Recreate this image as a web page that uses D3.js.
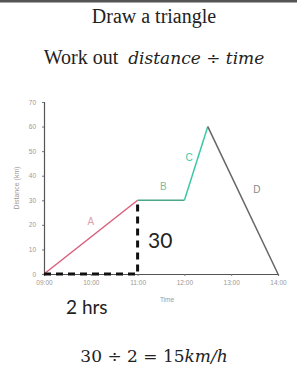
<!DOCTYPE html>
<html><head><meta charset="utf-8">
<script src="https://cdn.jsdelivr.net/npm/d3@7"></script>
<style>body{margin:0;background:#fff}svg{display:block}</style>
</head><body>
<svg id="c" width="297" height="365"></svg>
<script>
const hours = [9, 11, 12, 12.5, 14];
const distances = [0, 30, 30, 60, 0];
const segmentNames = ["A", "B", "C", "D"];
const segmentColors = ["#d9607c", "#4aa886", "#3cc8a4", "#666666"];
const xTickValues = [9, 10, 11, 12, 13, 14];
const xTickLabels = ["09:00", "10:00", "11:00", "12:00", "13:00", "14:00"];
const yTickValues = [0, 10, 20, 30, 40, 50, 60, 70];

const svg = d3.select("#c");
svg.append("rect").attr("x",0).attr("y",0).attr("width",297).attr("height",2.5).attr("fill","#555");

const x = d3.scaleLinear().domain([9, 14]).range([44, 278]);
const y = d3.scaleLinear().domain([0, 70]).range([274, 102]);

svg.append("text").attr("x",154).attr("y",23).attr("text-anchor","middle")
  .attr("font-family","Liberation Serif").attr("font-size",20).attr("fill","#222").text("Draw a triangle");
const t2 = svg.append("text").attr("x",154).attr("y",64).attr("text-anchor","middle")
  .attr("font-family","Liberation Serif").attr("font-size",20).attr("fill","#222")
  .attr("xml:space","preserve").style("white-space","pre");
t2.append("tspan").text("Work out  ");
t2.append("tspan").attr("font-family","DejaVu Serif").attr("font-size",17).attr("font-style","italic").text("distance");
t2.append("tspan").attr("font-family","DejaVu Serif").attr("font-size",17).text(" ÷ ");
t2.append("tspan").attr("font-family","DejaVu Serif").attr("font-size",17).attr("font-style","italic").text("time");

// axes
const yAxis = d3.axisLeft(y).tickValues(yTickValues).tickSize(2).tickFormat(d3.format("d"));
const gy = svg.append("g").attr("transform","translate(44,0)").call(yAxis);
const xAxis = d3.axisBottom(x).tickValues(xTickValues).tickSize(2).tickFormat((d,i)=>xTickLabels[i]);
const gx = svg.append("g").attr("transform","translate(0,274)").call(xAxis);
[gx, gy].forEach(g => {
  g.select(".domain").attr("stroke","#555").attr("stroke-width",1.2);
  g.selectAll(".tick line").attr("stroke","#777");
  g.selectAll(".tick text").attr("font-family","Liberation Sans").attr("font-size",6.5).attr("fill","#999");
});
gy.selectAll(".tick text").attr("x",-8);
gx.selectAll(".tick text").attr("y",6);

svg.append("text").attr("transform","translate(19,188) rotate(-90)").attr("text-anchor","middle")
  .attr("font-family","Liberation Sans").attr("font-size",7).attr("fill","#999").text("Distance (km)");
svg.append("text").attr("x",167).attr("y",302).attr("text-anchor","middle")
  .attr("font-family","Liberation Sans").attr("font-size",6.5).attr("fill","#999").text("Time");

// segments
for (let i = 0; i < 4; i++) {
  svg.append("line")
    .attr("x1", x(hours[i])).attr("y1", y(distances[i]))
    .attr("x2", x(hours[i+1])).attr("y2", y(distances[i+1]))
    .attr("stroke", segmentColors[i]).attr("stroke-width", 1.5);
}
const labelX = [10.0, 11.55, 12.1, 13.55];
const labelY = [20, 34, 46, 33];
const labelColors = ["#e0a0b0", "#7fb8a4", "#3cc8a4", "#888"];
for (let i = 0; i < 4; i++) {
  svg.append("text").attr("x", x(labelX[i])).attr("y", y(labelY[i])).attr("text-anchor","middle")
    .attr("font-family","Liberation Sans").attr("font-size",10).attr("fill",labelColors[i]).text(segmentNames[i]);
}

// dashed triangle legs
svg.append("path")
  .attr("d", d3.line()([[x(9), y(0)], [x(11), y(0)], [x(11), y(30)]]))
  .attr("fill","none").attr("stroke","#111").attr("stroke-width",3).attr("stroke-dasharray","7,5");

svg.append("text").attr("x",148).attr("y",248)
  .attr("font-family","Lato").attr("font-size",21).attr("fill","#222").text("30");
svg.append("text").attr("x",66).attr("y",314)
  .attr("font-family","Lato").attr("font-size",19).attr("fill","#222").text("2 hrs");

const t3 = svg.append("text").attr("x",154).attr("y",362).attr("text-anchor","middle")
  .attr("font-family","DejaVu Serif").attr("font-size",17).attr("fill","#222");
t3.append("tspan").text("30 ÷ 2 = 15");
t3.append("tspan").attr("font-style","italic").text("km/h");
</script>
</body></html>
